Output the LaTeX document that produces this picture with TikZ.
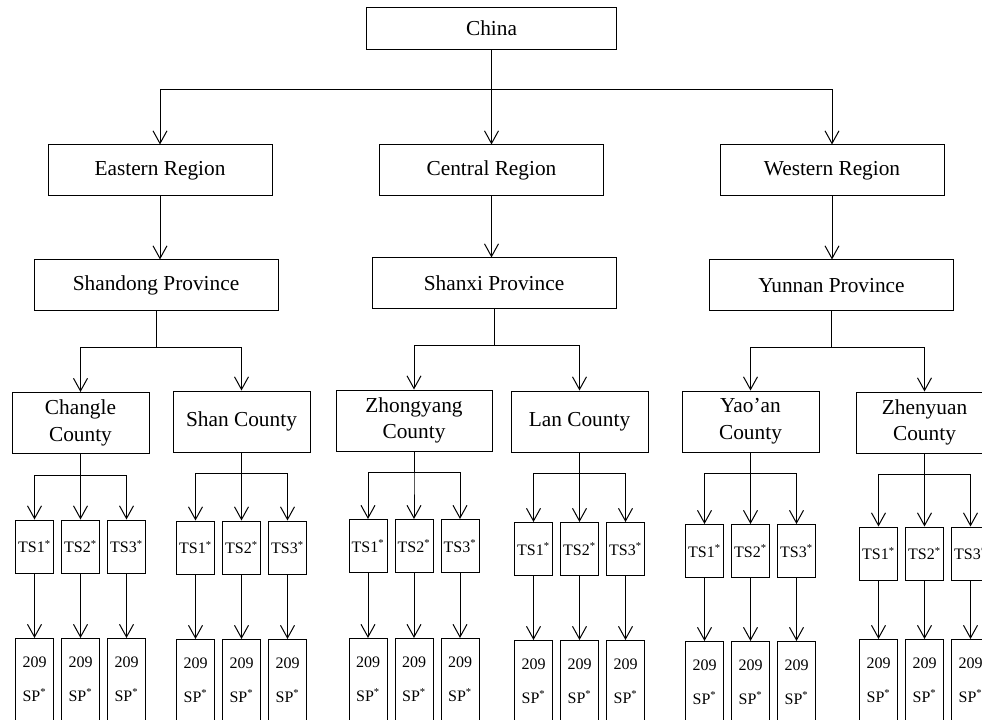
\documentclass[tikz,border=0pt]{standalone}
\usepackage{fontspec}
\setmainfont{Liberation Serif}
\usetikzlibrary{arrows.meta}

\begin{document}
\begin{tikzpicture}[x=0.75pt, y=-0.75pt, line width=0.75pt,
    box/.style={draw, inner sep=0pt, align=center, font=\fontsize{16}{20}\selectfont},
    topbox/.style={box, minimum width=168pt, minimum height=38.25pt},
    provbox/.style={box, minimum width=183pt, minimum height=38.25pt},
    ctybox/.style={box, minimum width=102.75pt, minimum height=45.75pt},
    tsbox/.style={draw, inner sep=0pt, minimum width=28.5pt, minimum height=39.75pt, font=\fontsize{12}{14}\selectfont},
    spbox/.style={draw, inner xsep=0pt, inner ysep=14pt, text depth=40pt, minimum width=28.5pt, align=center, font=\fontsize{12}{14}\selectfont},
    arr/.style={-{Straight Barb[length=9.5pt, width=10.5pt]}}]
    \useasboundingbox (0,0) rectangle (982,720);
    \clip (0,0) rectangle (982,720);

    % Country
    \node[box, minimum width=188pt, minimum height=32pt] (china) at (491.5,28.5) {China};

    % Regions
    \node[topbox] (east) at (160,170.5) {Eastern Region};
    \node[topbox] (central) at (491.5,170.5) {Central Region};
    \node[topbox] (west) at (832,170.5) {Western Region};

    \draw[arr] (china.south) -- ++(0,39) -| (east.north);
    \draw[arr] (china.south) -- (central.north);
    \draw[arr] (china.south) -- ++(0,39) -| (west.north);

    % Provinces
    \node[provbox] (shd) at (156,285.5) {Shandong Province};
    \node[provbox] (shx) at (494,283.5) {Shanxi Province};
    \node[provbox] (yun) at (831.5,285.5) {Yunnan Province};

    \draw[arr] (east.south) -- (east.south |- shd.north);
    \draw[arr] (central.south) -- (central.south |- shx.north);
    \draw[arr] (west.south) -- (west.south |- yun.north);

    % Counties
    \node[ctybox] (chl) at (80.5,423) {Changle\\County};
    \node[ctybox] (shn) at (241.5,421.5) {Shan County};
    \node[ctybox, minimum width=117pt] (zhy) at (414,420.5) {Zhongyang\\County};
    \node[ctybox] (lan) at (579.5,421.5) {Lan County};
    \node[ctybox] (yao) at (750.5,421.5) {Yao’an\\County};
    \node[ctybox] (zhe) at (924.5,422.5) {Zhenyuan\\County};

    \draw[arr] (shd.south) -- ++(0,36) -| (chl.north);
    \draw[arr] (shd.south) -- ++(0,36) -| (shn.north);
    \draw[arr] (shx.south) -- ++(0,36) -| (zhy.north);
    \draw[arr] (shx.south) -- ++(0,36) -| (lan.north);
    \draw[arr] (yun.south) -- ++(0,36) -| (yao.north);
    \draw[arr] (yun.south) -- ++(0,36) -| (zhe.north);

    % Towns and sample points
    \foreach \c/\x/\y/\t in {chl/80.5/546.5/638, shn/241.5/547.5/639, zhy/414/546/638,
                             lan/579.5/549/640, yao/750.5/551/641, zhe/924.5/553.5/639} {
      \foreach \i/\dx in {1/-46, 2/0, 3/46} {
        \node[tsbox] (\c-ts\i) at (\x+\dx,\y) {TS\i\textsuperscript{*}};
        \node[spbox, anchor=north] (\c-sp\i) at (\x+\dx,\t) {209\\[11pt]SP\textsuperscript{*}};
        \draw[arr] (\c.south) -- ++(0,21) -| (\c-ts\i.north);
        \draw[arr] (\c-ts\i.south) -- (\c-sp\i.north);
      }
    }
\end{tikzpicture}
\end{document}
